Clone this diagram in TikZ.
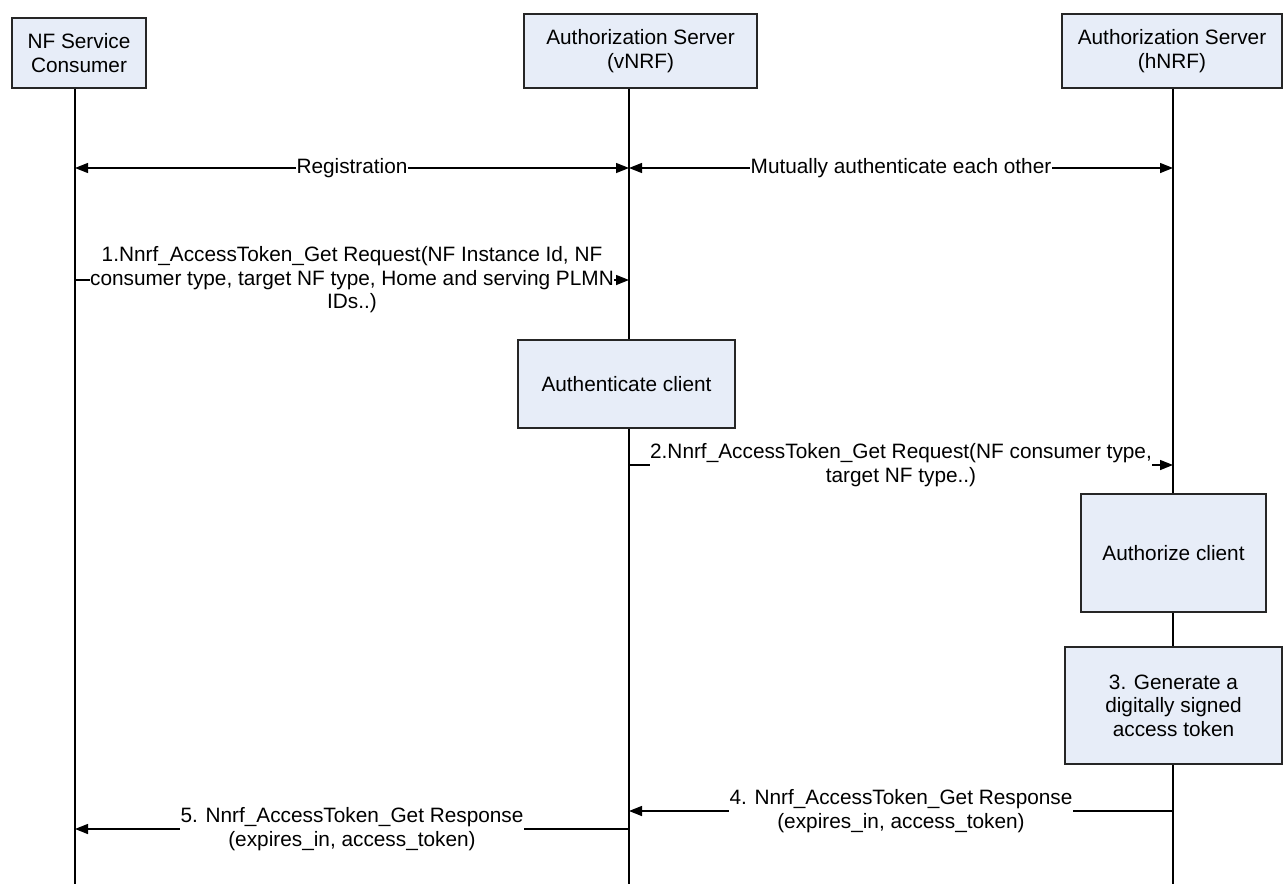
\documentclass[tikz,border=0pt]{standalone}
\usepackage{fontspec}
\setmainfont{Liberation Sans}
\usetikzlibrary{arrows.meta}
\definecolor{boxblue}{RGB}{231,237,248}

\begin{document}
\begin{tikzpicture}[x=1pt,y=-1pt, font=\fontsize{20.8}{23.5}\selectfont, >={Triangle[length=13pt,width=10pt]}]
	\tikzstyle{box}=[draw=black!85, fill=boxblue, line width=1.3pt, align=center, inner sep=0pt]
	\tikzstyle{life}=[line width=1.4pt]
	\tikzstyle{msg}=[fill=white, align=center, inner sep=0.5pt]
	
	\useasboundingbox (0,0) rectangle (1283,884);
	
	% Draw participants
	\node[box, minimum width=134, minimum height=70] (nf) at (79,53) {NF Service\\Consumer};
	\node[box, minimum width=233, minimum height=74] (vnrf) at (640.5,51) {Authorization Server\\(vNRF)};
	\node[box, minimum width=220, minimum height=74] (hnrf) at (1172,51) {Authorization Server\\(hNRF)};
	
	% Draw lifelines
	\coordinate (nfEnd) at (75,884);
	\coordinate (vEnd) at (629,884);
	\coordinate (hEnd) at (1173,884);
	\draw[life] (nf.south -| nfEnd) -- (nfEnd);
	\draw[life] (vnrf.south -| vEnd) -- (vEnd);
	\draw[life] (hnrf.south -| hEnd) -- (hEnd);
	
	% Draw boxes on the lifelines
	\node[box, minimum width=217, minimum height=88] (authn) at (626.5,384) {Authenticate client};
	\node[box, minimum width=185, minimum height=118] (authz) at (1173.5,553) {Authorize client};
	\node[box, minimum width=217, minimum height=117] (gen) at (1173.5,705.5) {3. Generate a\\digitally signed\\access token};
	
	% Draw messages
	\coordinate (nfReg) at (75,168);
	\coordinate (vReg) at (629,168);
	\coordinate (hReg) at (1173,168);
	\draw[life, <->] (nfReg) -- node[msg] {Registration} (vReg);
	\draw[life, <->] (vReg) -- node[msg] {Mutually authenticate each other} (hReg);
	
	\coordinate (nf1) at (75,280);
	\coordinate (v1) at (629,280);
	\draw[life, ->] (nf1) -- node[msg] {1.Nnrf\_AccessToken\_Get Request(NF Instance Id, NF\\consumer type, target NF type, Home and serving PLMN\\IDs..)} (v1);
	
	\coordinate (v2) at (629,465);
	\coordinate (h2) at (1173,465);
	\draw[life, ->] (v2) -- node[msg] {2.Nnrf\_AccessToken\_Get Request(NF consumer type,\\target NF type..)} (h2);
	
	\coordinate (h4) at (1173,811);
	\coordinate (v4) at (629,811);
	\draw[life, ->] (h4) -- node[msg] {4. Nnrf\_AccessToken\_Get Response\\(expires\_in, access\_token)} (v4);
	
	\coordinate (v5) at (629,829);
	\coordinate (nf5) at (75,829);
	\draw[life, ->] (v5) -- node[msg] {5. Nnrf\_AccessToken\_Get Response\\(expires\_in, access\_token)} (nf5);
	
\end{tikzpicture}
\end{document}
